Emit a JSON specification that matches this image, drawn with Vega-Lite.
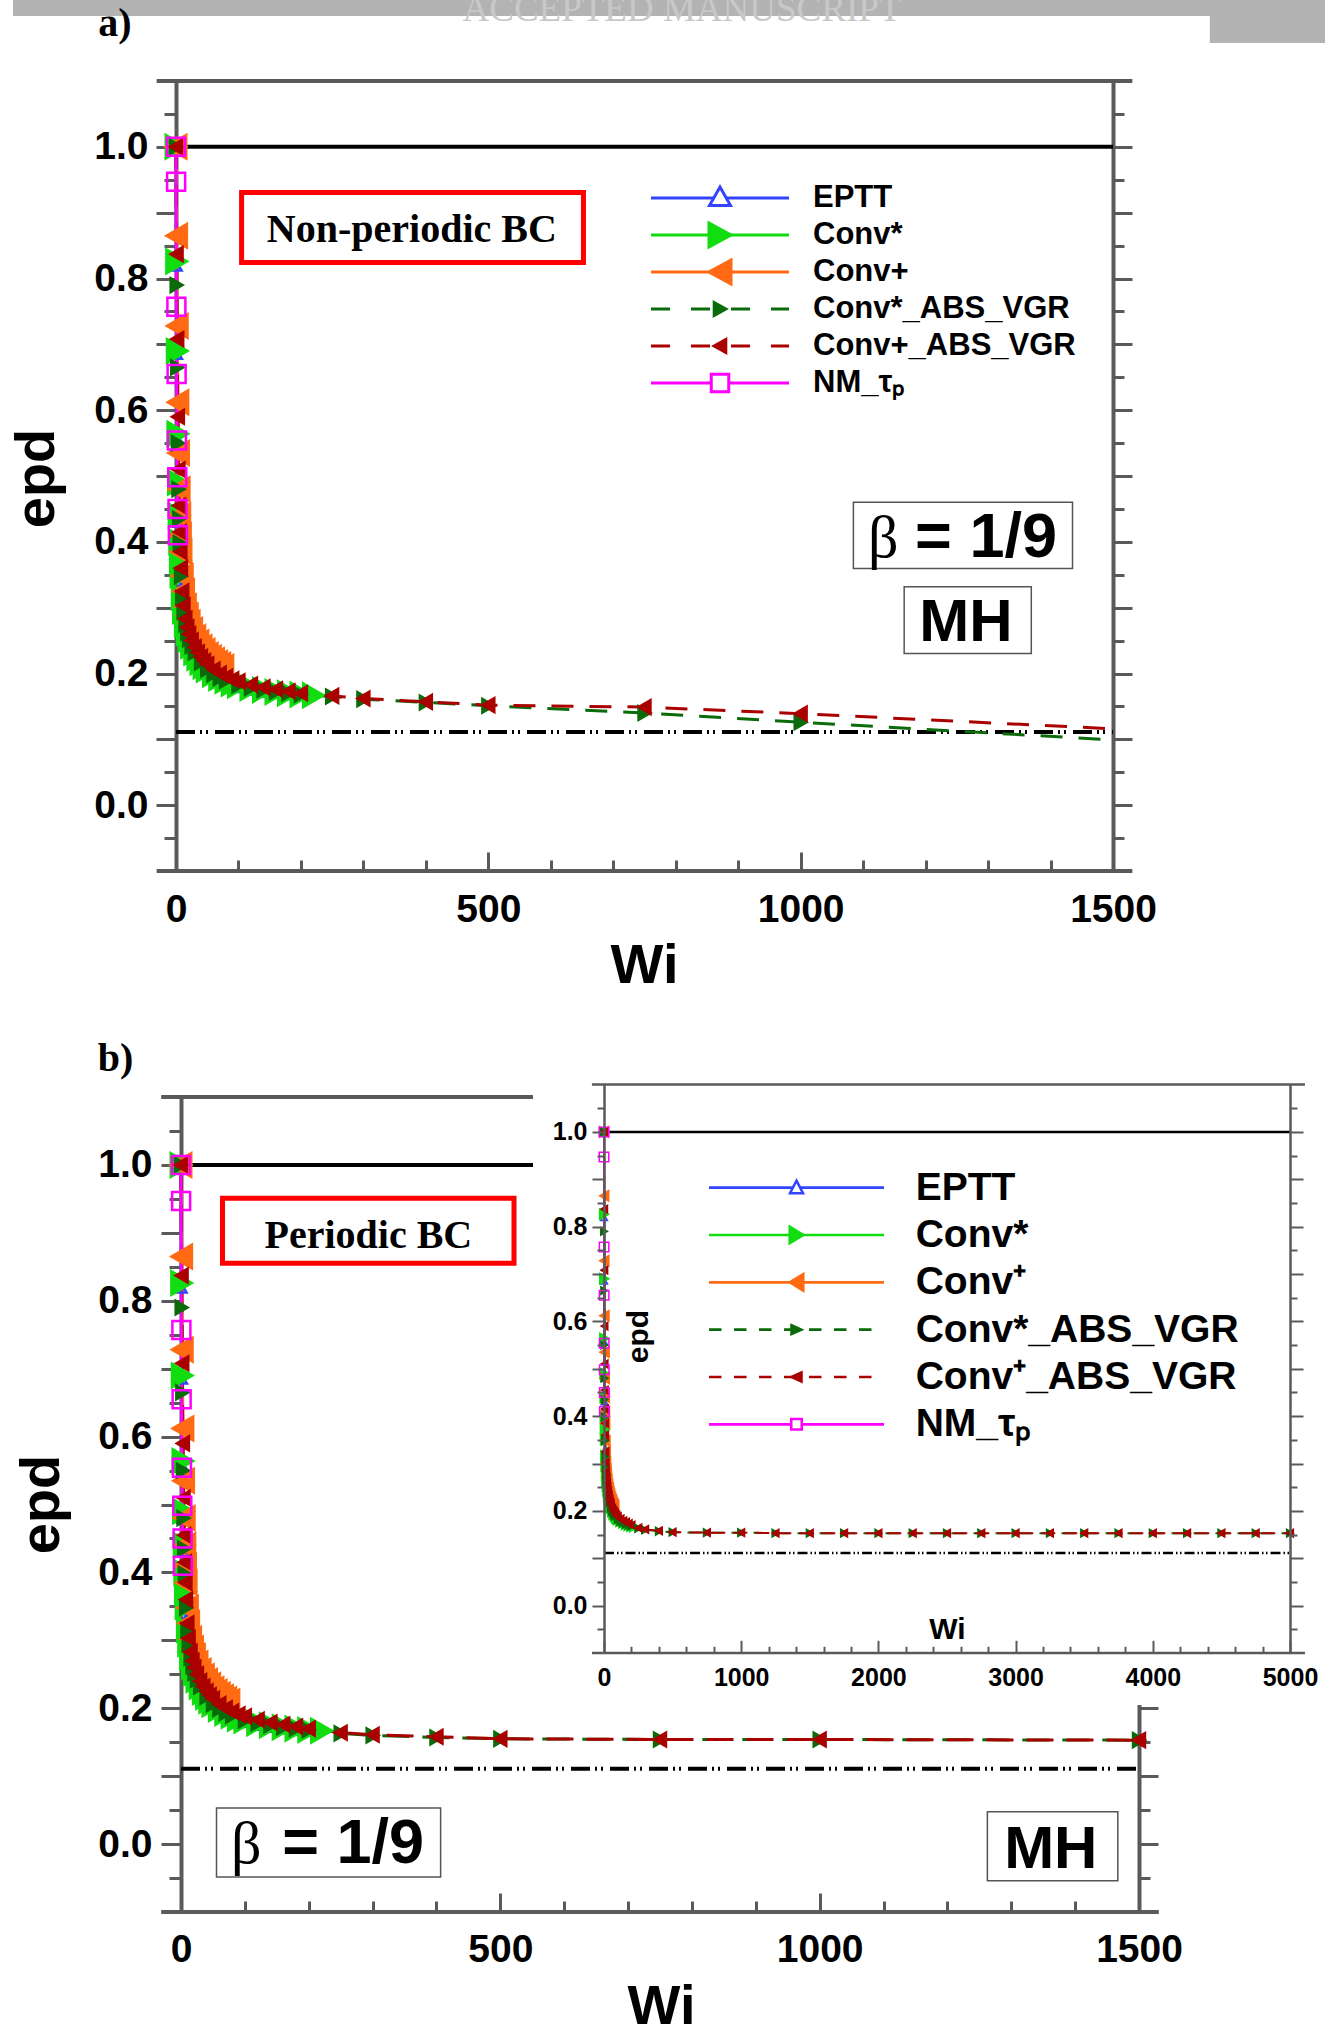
{
"$schema":"https://vega.github.io/schema/vega-lite/v6.json",
"width":1325,"height":2028,"autosize":{"type":"none"},"padding":0,"background":"white",
"config":{"view":{"stroke":null},"axis":{"grid":false,"labelFont":"Liberation Sans","labelFontWeight":"bold","labelColor":"black","titleFont":"Liberation Sans","titleFontWeight":"bold","titleColor":"black","labelOverlap":false,"labelBound":false,"labelFlush":false,"tickColor":"#5a5a5a","domainColor":"#5a5a5a"}},
"datasets":{"d":[
{"s":"EPTT","g":"all","Wi":0,"epd":1},{"s":"EPTT","g":"all","Wi":0.5,"epd":0.819},{"s":"EPTT","g":"all","Wi":1,"epd":0.685},{"s":"EPTT","g":"all","Wi":2,"epd":0.556},{"s":"EPTT","g":"all","Wi":3,"epd":0.48},{"s":"EPTT","g":"all","Wi":4,"epd":0.43},{"s":"EPTT","g":"all","Wi":5,"epd":0.392},{"s":"EPTT","g":"all","Wi":6,"epd":0.364},{"s":"EPTT","g":"all","Wi":8,"epd":0.33},{"s":"EPTT","g":"all","Wi":10,"epd":0.308},{"s":"EPTT","g":"all","Wi":12,"epd":0.29},{"s":"EPTT","g":"all","Wi":15,"epd":0.27},{"s":"EPTT","g":"all","Wi":18,"epd":0.257},{"s":"EPTT","g":"all","Wi":21,"epd":0.247},{"s":"EPTT","g":"all","Wi":25,"epd":0.237},{"s":"EPTT","g":"all","Wi":30,"epd":0.227},{"s":"EPTT","g":"all","Wi":35,"epd":0.219},{"s":"EPTT","g":"all","Wi":40,"epd":0.212},{"s":"EPTT","g":"all","Wi":45,"epd":0.207},{"s":"EPTT","g":"all","Wi":50,"epd":0.202},{"s":"EPTT","g":"all","Wi":60,"epd":0.195},{"s":"EPTT","g":"all","Wi":70,"epd":0.19},{"s":"EPTT","g":"all","Wi":80,"epd":0.186},{"s":"EPTT","g":"all","Wi":90,"epd":0.182},{"s":"EPTT","g":"all","Wi":100,"epd":0.179},{"s":"EPTT","g":"all","Wi":120,"epd":0.175},{"s":"EPTT","g":"all","Wi":140,"epd":0.172},{"s":"EPTT","g":"all","Wi":160,"epd":0.17},{"s":"EPTT","g":"all","Wi":180,"epd":0.168},{"s":"EPTT","g":"all","Wi":200,"epd":0.167},
{"s":"Conv*","g":"all","Wi":0,"epd":1},{"s":"Conv*","g":"all","Wi":1,"epd":0.826},{"s":"Conv*","g":"all","Wi":2,"epd":0.69},{"s":"Conv*","g":"all","Wi":3,"epd":0.564},{"s":"Conv*","g":"all","Wi":4,"epd":0.49},{"s":"Conv*","g":"all","Wi":5,"epd":0.44},{"s":"Conv*","g":"all","Wi":6,"epd":0.4},{"s":"Conv*","g":"all","Wi":7,"epd":0.372},{"s":"Conv*","g":"all","Wi":8,"epd":0.35},{"s":"Conv*","g":"all","Wi":10,"epd":0.316},{"s":"Conv*","g":"all","Wi":12,"epd":0.295},{"s":"Conv*","g":"all","Wi":15,"epd":0.275},{"s":"Conv*","g":"all","Wi":18,"epd":0.262},{"s":"Conv*","g":"all","Wi":21,"epd":0.252},{"s":"Conv*","g":"all","Wi":25,"epd":0.242},{"s":"Conv*","g":"all","Wi":30,"epd":0.232},{"s":"Conv*","g":"all","Wi":35,"epd":0.224},{"s":"Conv*","g":"all","Wi":40,"epd":0.217},{"s":"Conv*","g":"all","Wi":45,"epd":0.211},{"s":"Conv*","g":"all","Wi":50,"epd":0.206},{"s":"Conv*","g":"all","Wi":60,"epd":0.199},{"s":"Conv*","g":"all","Wi":70,"epd":0.193},{"s":"Conv*","g":"all","Wi":80,"epd":0.189},{"s":"Conv*","g":"all","Wi":90,"epd":0.185},{"s":"Conv*","g":"all","Wi":100,"epd":0.182},{"s":"Conv*","g":"all","Wi":120,"epd":0.178},{"s":"Conv*","g":"all","Wi":140,"epd":0.175},{"s":"Conv*","g":"all","Wi":160,"epd":0.172},{"s":"Conv*","g":"all","Wi":180,"epd":0.17},{"s":"Conv*","g":"all","Wi":200,"epd":0.168},{"s":"Conv*","g":"all","Wi":220,"epd":0.167},
{"s":"Conv+","g":"all","Wi":0,"epd":1},{"s":"Conv+","g":"all","Wi":1,"epd":0.865},{"s":"Conv+","g":"all","Wi":2,"epd":0.728},{"s":"Conv+","g":"all","Wi":3,"epd":0.612},{"s":"Conv+","g":"all","Wi":4,"epd":0.535},{"s":"Conv+","g":"all","Wi":5,"epd":0.48},{"s":"Conv+","g":"all","Wi":6,"epd":0.44},{"s":"Conv+","g":"all","Wi":7,"epd":0.41},{"s":"Conv+","g":"all","Wi":8,"epd":0.385},{"s":"Conv+","g":"all","Wi":10,"epd":0.348},{"s":"Conv+","g":"all","Wi":12,"epd":0.325},{"s":"Conv+","g":"all","Wi":15,"epd":0.302},{"s":"Conv+","g":"all","Wi":18,"epd":0.288},{"s":"Conv+","g":"all","Wi":21,"epd":0.277},{"s":"Conv+","g":"all","Wi":25,"epd":0.266},{"s":"Conv+","g":"all","Wi":30,"epd":0.255},{"s":"Conv+","g":"all","Wi":35,"epd":0.247},{"s":"Conv+","g":"all","Wi":40,"epd":0.24},{"s":"Conv+","g":"all","Wi":45,"epd":0.234},{"s":"Conv+","g":"all","Wi":50,"epd":0.228},{"s":"Conv+","g":"all","Wi":55,"epd":0.224},{"s":"Conv+","g":"all","Wi":60,"epd":0.22},{"s":"Conv+","g":"all","Wi":65,"epd":0.216},{"s":"Conv+","g":"all","Wi":70,"epd":0.213},{"s":"Conv+","g":"all","Wi":75,"epd":0.21},
{"s":"Conv*_ABS_VGR","g":"all","Wi":0,"epd":1},{"s":"Conv*_ABS_VGR","g":"all","Wi":1,"epd":0.79},{"s":"Conv*_ABS_VGR","g":"all","Wi":2,"epd":0.665},{"s":"Conv*_ABS_VGR","g":"all","Wi":3,"epd":0.55},{"s":"Conv*_ABS_VGR","g":"all","Wi":4,"epd":0.48},{"s":"Conv*_ABS_VGR","g":"all","Wi":5,"epd":0.435},{"s":"Conv*_ABS_VGR","g":"all","Wi":6,"epd":0.398},{"s":"Conv*_ABS_VGR","g":"all","Wi":8,"epd":0.348},{"s":"Conv*_ABS_VGR","g":"all","Wi":10,"epd":0.315},{"s":"Conv*_ABS_VGR","g":"all","Wi":12,"epd":0.294},{"s":"Conv*_ABS_VGR","g":"all","Wi":15,"epd":0.275},{"s":"Conv*_ABS_VGR","g":"all","Wi":18,"epd":0.262},{"s":"Conv*_ABS_VGR","g":"all","Wi":21,"epd":0.252},{"s":"Conv*_ABS_VGR","g":"all","Wi":25,"epd":0.242},{"s":"Conv*_ABS_VGR","g":"all","Wi":30,"epd":0.232},{"s":"Conv*_ABS_VGR","g":"all","Wi":40,"epd":0.217},{"s":"Conv*_ABS_VGR","g":"all","Wi":50,"epd":0.206},{"s":"Conv*_ABS_VGR","g":"all","Wi":60,"epd":0.199},{"s":"Conv*_ABS_VGR","g":"all","Wi":70,"epd":0.193},{"s":"Conv*_ABS_VGR","g":"all","Wi":80,"epd":0.189},{"s":"Conv*_ABS_VGR","g":"all","Wi":100,"epd":0.182},{"s":"Conv*_ABS_VGR","g":"all","Wi":120,"epd":0.178},{"s":"Conv*_ABS_VGR","g":"all","Wi":140,"epd":0.175},{"s":"Conv*_ABS_VGR","g":"all","Wi":160,"epd":0.172},{"s":"Conv*_ABS_VGR","g":"all","Wi":180,"epd":0.17},{"s":"Conv*_ABS_VGR","g":"all","Wi":200,"epd":0.168},
{"s":"Conv+_ABS_VGR","g":"all","Wi":0,"epd":1},{"s":"Conv+_ABS_VGR","g":"all","Wi":1,"epd":0.837},{"s":"Conv+_ABS_VGR","g":"all","Wi":2,"epd":0.708},{"s":"Conv+_ABS_VGR","g":"all","Wi":3,"epd":0.59},{"s":"Conv+_ABS_VGR","g":"all","Wi":4,"epd":0.51},{"s":"Conv+_ABS_VGR","g":"all","Wi":5,"epd":0.455},{"s":"Conv+_ABS_VGR","g":"all","Wi":6,"epd":0.415},{"s":"Conv+_ABS_VGR","g":"all","Wi":7,"epd":0.385},{"s":"Conv+_ABS_VGR","g":"all","Wi":8,"epd":0.36},{"s":"Conv+_ABS_VGR","g":"all","Wi":10,"epd":0.325},{"s":"Conv+_ABS_VGR","g":"all","Wi":12,"epd":0.303},{"s":"Conv+_ABS_VGR","g":"all","Wi":15,"epd":0.283},{"s":"Conv+_ABS_VGR","g":"all","Wi":18,"epd":0.27},{"s":"Conv+_ABS_VGR","g":"all","Wi":21,"epd":0.26},{"s":"Conv+_ABS_VGR","g":"all","Wi":25,"epd":0.25},{"s":"Conv+_ABS_VGR","g":"all","Wi":30,"epd":0.24},{"s":"Conv+_ABS_VGR","g":"all","Wi":35,"epd":0.232},{"s":"Conv+_ABS_VGR","g":"all","Wi":40,"epd":0.225},{"s":"Conv+_ABS_VGR","g":"all","Wi":45,"epd":0.219},{"s":"Conv+_ABS_VGR","g":"all","Wi":50,"epd":0.214},{"s":"Conv+_ABS_VGR","g":"all","Wi":60,"epd":0.206},{"s":"Conv+_ABS_VGR","g":"all","Wi":70,"epd":0.2},{"s":"Conv+_ABS_VGR","g":"all","Wi":80,"epd":0.195},{"s":"Conv+_ABS_VGR","g":"all","Wi":90,"epd":0.191},{"s":"Conv+_ABS_VGR","g":"all","Wi":100,"epd":0.188},{"s":"Conv+_ABS_VGR","g":"all","Wi":120,"epd":0.183},{"s":"Conv+_ABS_VGR","g":"all","Wi":140,"epd":0.179},{"s":"Conv+_ABS_VGR","g":"all","Wi":160,"epd":0.176},{"s":"Conv+_ABS_VGR","g":"all","Wi":180,"epd":0.173},{"s":"Conv+_ABS_VGR","g":"all","Wi":200,"epd":0.17},
{"s":"NM_τₚ","g":"all","Wi":0,"epd":1},{"s":"NM_τₚ","g":"all","Wi":0.2,"epd":0.947},{"s":"NM_τₚ","g":"all","Wi":0.6,"epd":0.757},{"s":"NM_τₚ","g":"all","Wi":1,"epd":0.655},{"s":"NM_τₚ","g":"all","Wi":1.5,"epd":0.554},{"s":"NM_τₚ","g":"all","Wi":2,"epd":0.498},{"s":"NM_τₚ","g":"all","Wi":2.5,"epd":0.45},{"s":"NM_τₚ","g":"all","Wi":3,"epd":0.41},
{"s":"Conv*_ABS_VGR","g":"a","Wi":250,"epd":0.165},{"s":"Conv*_ABS_VGR","g":"a","Wi":300,"epd":0.161},{"s":"Conv*_ABS_VGR","g":"a","Wi":400,"epd":0.156},{"s":"Conv*_ABS_VGR","g":"a","Wi":500,"epd":0.151},{"s":"Conv*_ABS_VGR","g":"a","Wi":750,"epd":0.14},{"s":"Conv*_ABS_VGR","g":"a","Wi":1000,"epd":0.126},{"s":"Conv*_ABS_VGR","g":"a","Wi":1500,"epd":0.099},
{"s":"Conv+_ABS_VGR","g":"a","Wi":250,"epd":0.166},{"s":"Conv+_ABS_VGR","g":"a","Wi":300,"epd":0.162},{"s":"Conv+_ABS_VGR","g":"a","Wi":400,"epd":0.157},{"s":"Conv+_ABS_VGR","g":"a","Wi":500,"epd":0.152},{"s":"Conv+_ABS_VGR","g":"a","Wi":750,"epd":0.149},{"s":"Conv+_ABS_VGR","g":"a","Wi":1000,"epd":0.139},{"s":"Conv+_ABS_VGR","g":"a","Wi":1500,"epd":0.116},
{"s":"Conv*_ABS_VGR","g":"b","Wi":250,"epd":0.163},{"s":"Conv*_ABS_VGR","g":"b","Wi":300,"epd":0.16},{"s":"Conv*_ABS_VGR","g":"b","Wi":400,"epd":0.157},{"s":"Conv*_ABS_VGR","g":"b","Wi":500,"epd":0.155},{"s":"Conv*_ABS_VGR","g":"b","Wi":750,"epd":0.154},{"s":"Conv*_ABS_VGR","g":"b","Wi":1000,"epd":0.154},{"s":"Conv*_ABS_VGR","g":"b","Wi":1500,"epd":0.153},
{"s":"Conv+_ABS_VGR","g":"b","Wi":250,"epd":0.164},{"s":"Conv+_ABS_VGR","g":"b","Wi":300,"epd":0.161},{"s":"Conv+_ABS_VGR","g":"b","Wi":400,"epd":0.158},{"s":"Conv+_ABS_VGR","g":"b","Wi":500,"epd":0.155},{"s":"Conv+_ABS_VGR","g":"b","Wi":750,"epd":0.154},{"s":"Conv+_ABS_VGR","g":"b","Wi":1000,"epd":0.154},{"s":"Conv+_ABS_VGR","g":"b","Wi":1500,"epd":0.153},
{"s":"Conv*_ABS_VGR","g":"i","Wi":1250,"epd":0.153},{"s":"Conv*_ABS_VGR","g":"i","Wi":1750,"epd":0.153},{"s":"Conv*_ABS_VGR","g":"i","Wi":2000,"epd":0.153},{"s":"Conv*_ABS_VGR","g":"i","Wi":2250,"epd":0.153},{"s":"Conv*_ABS_VGR","g":"i","Wi":2500,"epd":0.153},{"s":"Conv*_ABS_VGR","g":"i","Wi":2750,"epd":0.153},{"s":"Conv*_ABS_VGR","g":"i","Wi":3000,"epd":0.153},{"s":"Conv*_ABS_VGR","g":"i","Wi":3250,"epd":0.153},{"s":"Conv*_ABS_VGR","g":"i","Wi":3500,"epd":0.153},{"s":"Conv*_ABS_VGR","g":"i","Wi":3750,"epd":0.153},{"s":"Conv*_ABS_VGR","g":"i","Wi":4000,"epd":0.153},{"s":"Conv*_ABS_VGR","g":"i","Wi":4250,"epd":0.153},{"s":"Conv*_ABS_VGR","g":"i","Wi":4500,"epd":0.153},{"s":"Conv*_ABS_VGR","g":"i","Wi":4750,"epd":0.153},{"s":"Conv*_ABS_VGR","g":"i","Wi":5000,"epd":0.153},
{"s":"Conv+_ABS_VGR","g":"i","Wi":1250,"epd":0.153},{"s":"Conv+_ABS_VGR","g":"i","Wi":1750,"epd":0.153},{"s":"Conv+_ABS_VGR","g":"i","Wi":2000,"epd":0.153},{"s":"Conv+_ABS_VGR","g":"i","Wi":2250,"epd":0.153},{"s":"Conv+_ABS_VGR","g":"i","Wi":2500,"epd":0.153},{"s":"Conv+_ABS_VGR","g":"i","Wi":2750,"epd":0.153},{"s":"Conv+_ABS_VGR","g":"i","Wi":3000,"epd":0.153},{"s":"Conv+_ABS_VGR","g":"i","Wi":3250,"epd":0.153},{"s":"Conv+_ABS_VGR","g":"i","Wi":3500,"epd":0.153},{"s":"Conv+_ABS_VGR","g":"i","Wi":3750,"epd":0.153},{"s":"Conv+_ABS_VGR","g":"i","Wi":4000,"epd":0.153},{"s":"Conv+_ABS_VGR","g":"i","Wi":4250,"epd":0.153},{"s":"Conv+_ABS_VGR","g":"i","Wi":4500,"epd":0.153},{"s":"Conv+_ABS_VGR","g":"i","Wi":4750,"epd":0.153},{"s":"Conv+_ABS_VGR","g":"i","Wi":5000,"epd":0.153}
],
"leg":[{"s":"EPTT","label":"EPTT","labelB":"EPTT"},{"s":"Conv*","label":"Conv*","labelB":"Conv*"},{"s":"Conv+","label":"Conv+","labelB":"Conv⁺"},{"s":"Conv*_ABS_VGR","label":"Conv*_ABS_VGR","labelB":"Conv*_ABS_VGR"},{"s":"Conv+_ABS_VGR","label":"Conv+_ABS_VGR","labelB":"Conv⁺_ABS_VGR"},{"s":"NM_τₚ","label":"NM_τₚ","labelB":"NM_τₚ"}]
},
"layer":[
{"layer":[
 {"data":{"values":[{}]},"mark":{"type":"rect","color":"#b3b3b3"},"encoding":{"x":{"datum":-261,"type":"quantitative","axis":null},"x2":{"datum":1840},"y":{"datum":1.224,"type":"quantitative","axis":null},"y2":{"datum":1.1987}}},
 {"data":{"values":[{}]},"mark":{"type":"rect","color":"#b3b3b3"},"encoding":{"x":{"datum":1655,"type":"quantitative","axis":null},"x2":{"datum":1840},"y":{"datum":1.224,"type":"quantitative","axis":null},"y2":{"datum":1.1577}}},
 {"data":{"values":[{}]},"mark":{"type":"text","text":"ACCEPTED MANUSCRIPT","font":"Liberation Serif","fontSize":37,"color":"#c8c8c8","align":"center","baseline":"alphabetic"},"encoding":{"x":{"datum":810,"type":"quantitative","axis":null},"y":{"datum":1.1911,"type":"quantitative","axis":null}}},
 {"data":{"values":[{}]},"mark":{"type":"rule","color":"black","strokeWidth":4},"encoding":{"x":{"datum":0,"type":"quantitative","axis":null},"x2":{"datum":1500},"y":{"datum":1,"type":"quantitative","axis":null}}},
 {"data":{"values":[{}]},"mark":{"type":"rule","color":"black","strokeWidth":4,"strokeDash":[19,5,2,4,2,7]},"encoding":{"x":{"datum":0,"type":"quantitative","axis":null},"x2":{"datum":1500},"y":{"datum":0.1111,"type":"quantitative","axis":null}}},
 {"data":{"name":"d"},"transform":[{"filter":"datum.g==='all'||datum.g==='a'"}],"mark":{"type":"line","strokeWidth":3},
  "encoding":{
   "x":{"field":"Wi","type":"quantitative","scale":{"domain":[0,1500],"range":[176,1113],"nice":false,"zero":false},
     "axis":{"orient":"bottom","offset":-1157,"values":[0,100,200,300,400,500,600,700,800,900,1000,1100,1200,1300,1400,1500],"tickSize":{"condition":{"test":"datum.value%500===0","value":-19},"value":-11},"tickWidth":3,"domain":false,"labelExpr":"datum.value%500===0?format(datum.value,'d'):''","labelFontSize":39,"labelPadding":38,"title":"Wi","titleFontSize":56,"titleX":644,"titleY":111,"titleAlign":"center","titleBaseline":"alphabetic","titleAngle":0}},
   "y":{"field":"epd","type":"quantitative","scale":{"domain":[-0.1,1.1],"range":[871,81],"nice":false,"zero":false},
     "axis":{"orient":"left","offset":-176,"values":[-0.05,0,0.05,0.1,0.15,0.2,0.25,0.3,0.35,0.4,0.45,0.5,0.55,0.6,0.65,0.7,0.75,0.8,0.85,0.9,0.95,1,1.05],"tickSize":{"condition":{"test":"abs(round(datum.value*100))%10===0","value":20},"value":12},"tickWidth":3,"domainWidth":4,"labelExpr":"abs(round(datum.value*100))%20===0?format(datum.value,'.1f'):''","labelFontSize":39,"labelPadding":8,"title":"epd","titleFontSize":56,"titleAngle":270,"titleX":-140,"titleY":478,"titleAlign":"center","titleBaseline":"middle"}},
   "stroke":{"field":"s","type":"nominal","scale":{"domain":["EPTT","Conv*","Conv+","Conv*_ABS_VGR","Conv+_ABS_VGR","NM_τₚ"],"range":["#3344ff","#11dd11","#ff6a13","#0b6b0b","#aa0000","#ff00ff"]},"legend":null},
   "strokeDash":{"field":"s","type":"nominal","scale":{"domain":["EPTT","Conv*","Conv+","Conv*_ABS_VGR","Conv+_ABS_VGR","NM_τₚ"],"range":[[1,0],[1,0],[1,0],[22,16],[22,16],[1,0]]},"legend":null}
  }},
 {"data":{"name":"d"},"transform":[{"filter":"(datum.g==='all'||datum.g==='a')&&datum.Wi<1500"}],"mark":{"type":"point","size":100,"strokeWidth":2.5,"opacity":1},
  "encoding":{
   "x":{"field":"Wi","type":"quantitative","axis":null},
   "y":{"field":"epd","type":"quantitative","axis":{"orient":"right","offset":-212,"values":[-0.05,0,0.05,0.1,0.15,0.2,0.25,0.3,0.35,0.4,0.45,0.5,0.55,0.6,0.65,0.7,0.75,0.8,0.85,0.9,0.95,1,1.05],"tickSize":{"condition":{"test":"abs(round(datum.value*100))%10===0","value":19},"value":11},"tickWidth":3,"domainWidth":4,"labels":false,"title":null}},
   "stroke":{"field":"s","type":"nominal","scale":{"domain":["EPTT","Conv*","Conv+","Conv*_ABS_VGR","Conv+_ABS_VGR","NM_τₚ"],"range":["#3344ff","#11dd11","#ff6a13","#0b6b0b","#aa0000","#ff00ff"]},"legend":null},
   "fill":{"field":"s","type":"nominal","scale":{"domain":["EPTT","Conv*","Conv+","Conv*_ABS_VGR","Conv+_ABS_VGR","NM_τₚ"],"range":["transparent","#11dd11","#ff6a13","#0b6b0b","#aa0000","transparent"]},"legend":null},
   "shape":{"field":"s","type":"nominal","scale":{"domain":["EPTT","Conv*","Conv+","Conv*_ABS_VGR","Conv+_ABS_VGR","NM_τₚ"],"range":["M0,-0.91L1.05,0.91L-1.05,0.91Z","M2.05,0L-2.05,-2.37L-2.05,2.37Z","M-2.05,0L2.05,-2.37L2.05,2.37Z","M1.19,0L-1.19,-1.38L-1.19,1.38Z","M-1.19,0L1.19,-1.38L1.19,1.38Z","M-1.8,-1.8H1.8V1.8H-1.8Z"]},"legend":null}
  }},
 {"data":{"values":[{}]},"mark":{"type":"rule","color":"#5a5a5a","strokeWidth":4},"encoding":{"x":{"datum":-31,"type":"quantitative","axis":null},"x2":{"datum":1531},"y":{"datum":1.1,"type":"quantitative","axis":null}}},
 {"data":{"values":[{}]},"mark":{"type":"rule","color":"#5a5a5a","strokeWidth":4},"encoding":{"x":{"datum":-31,"type":"quantitative","axis":null},"x2":{"datum":1531},"y":{"datum":-0.1,"type":"quantitative","axis":null}}},
 {"data":{"values":[{}]},"mark":{"type":"rect","fill":"white","stroke":"#ff0000","strokeWidth":5},"encoding":{"x":{"datum":105,"type":"quantitative","axis":null},"x2":{"datum":652.3},"y":{"datum":0.9306,"type":"quantitative","axis":null},"y2":{"datum":0.8243}}},
 {"data":{"values":[{}]},"mark":{"type":"text","text":"Non-periodic BC","font":"Liberation Serif","fontWeight":"bold","fontSize":40,"color":"black","align":"center","baseline":"alphabetic"},"encoding":{"x":{"datum":377.5,"type":"quantitative","axis":null},"y":{"datum":0.8559,"type":"quantitative","axis":null}}},
 {"data":{"values":[{}]},"mark":{"type":"rect","fill":"white","stroke":"#555555","strokeWidth":1.5},"encoding":{"x":{"datum":1084.4,"type":"quantitative","axis":null},"x2":{"datum":1435.2},"y":{"datum":0.4602,"type":"quantitative","axis":null},"y2":{"datum":0.3596}}},
 {"data":{"values":[{}]},"mark":{"type":"text","text":"β","font":"Liberation Serif","fontSize":60,"color":"black","align":"left","baseline":"alphabetic"},"encoding":{"x":{"datum":1107.8,"type":"quantitative","axis":null},"y":{"datum":0.377,"type":"quantitative","axis":null}}},
 {"data":{"values":[{}]},"mark":{"type":"text","text":"= 1/9","font":"Liberation Sans","fontWeight":"bold","fontSize":63,"color":"black","align":"right","baseline":"alphabetic"},"encoding":{"x":{"datum":1410.3,"type":"quantitative","axis":null},"y":{"datum":0.377,"type":"quantitative","axis":null}}},
 {"data":{"values":[{}]},"mark":{"type":"rect","fill":"white","stroke":"#555555","strokeWidth":1.5},"encoding":{"x":{"datum":1165.7,"type":"quantitative","axis":null},"x2":{"datum":1369.2},"y":{"datum":0.3317,"type":"quantitative","axis":null},"y2":{"datum":0.2305}}},
 {"data":{"values":[{}]},"mark":{"type":"text","text":"MH","font":"Liberation Sans","fontWeight":"bold","fontSize":60,"color":"black","align":"center","baseline":"alphabetic"},"encoding":{"x":{"datum":1264.7,"type":"quantitative","axis":null},"y":{"datum":0.2494,"type":"quantitative","axis":null}}},
 {"data":{"values":[{}]},"mark":{"type":"text","text":"a)","font":"Liberation Serif","fontWeight":"bold","fontSize":40,"color":"black","align":"center","baseline":"alphabetic"},"encoding":{"x":{"datum":-98,"type":"quantitative","axis":null},"y":{"datum":1.168,"type":"quantitative","axis":null}}}
],
"resolve":{"axis":{"x":"independent","y":"independent"}}},

{"layer":[
 {"data":{"values":[{}]},"mark":{"type":"rule","color":"black","strokeWidth":4},"encoding":{"x":{"datum":0,"type":"quantitative","axis":null},"x2":{"datum":1500},"y":{"datum":1,"type":"quantitative","axis":null}}},
 {"data":{"values":[{}]},"mark":{"type":"rule","color":"black","strokeWidth":4,"strokeDash":[19,5,2,4,2,7]},"encoding":{"x":{"datum":0,"type":"quantitative","axis":null},"x2":{"datum":1500},"y":{"datum":0.1111,"type":"quantitative","axis":null}}},
 {"data":{"name":"d"},"transform":[{"filter":"datum.g==='all'||datum.g==='b'"}],"mark":{"type":"line","strokeWidth":3},
  "encoding":{
   "x":{"field":"Wi","type":"quantitative","scale":{"domain":[0,1500],"range":[181,1139],"nice":false,"zero":false},
     "axis":{"orient":"bottom","offset":-116,"values":[0,100,200,300,400,500,600,700,800,900,1000,1100,1200,1300,1400,1500],"tickSize":{"condition":{"test":"datum.value%500===0","value":-19},"value":-11},"tickWidth":3,"domain":false,"labelExpr":"datum.value%500===0?format(datum.value,'d'):''","labelFontSize":39,"labelPadding":37,"title":"Wi","titleFontSize":56,"titleX":661,"titleY":111,"titleAlign":"center","titleBaseline":"alphabetic","titleAngle":0}},
   "y":{"field":"epd","type":"quantitative","scale":{"domain":[-0.1,1.1],"range":[1912,1097],"nice":false,"zero":false},
     "axis":{"orient":"left","offset":-181,"values":[-0.05,0,0.05,0.1,0.15,0.2,0.25,0.3,0.35,0.4,0.45,0.5,0.55,0.6,0.65,0.7,0.75,0.8,0.85,0.9,0.95,1,1.05],"tickSize":{"condition":{"test":"abs(round(datum.value*100))%10===0","value":20},"value":12},"tickWidth":3,"domainWidth":4,"labelExpr":"abs(round(datum.value*100))%20===0?format(datum.value,'.1f'):''","labelFontSize":39,"labelPadding":9,"title":"epd","titleFontSize":56,"titleAngle":270,"titleX":-140,"titleY":1504,"titleAlign":"center","titleBaseline":"middle"}},
   "stroke":{"field":"s","type":"nominal","scale":{"domain":["EPTT","Conv*","Conv+","Conv*_ABS_VGR","Conv+_ABS_VGR","NM_τₚ"],"range":["#3344ff","#11dd11","#ff6a13","#0b6b0b","#aa0000","#ff00ff"]},"legend":null},
   "strokeDash":{"field":"s","type":"nominal","scale":{"domain":["EPTT","Conv*","Conv+","Conv*_ABS_VGR","Conv+_ABS_VGR","NM_τₚ"],"range":[[1,0],[1,0],[1,0],[27,13],[27,13],[1,0]]},"legend":null}
  }},
 {"data":{"name":"d"},"transform":[{"filter":"datum.g==='all'||datum.g==='b'"}],"mark":{"type":"point","size":100,"strokeWidth":2.5,"opacity":1},
  "encoding":{
   "x":{"field":"Wi","type":"quantitative","axis":null},
   "y":{"field":"epd","type":"quantitative","axis":{"orient":"right","offset":-186,"values":[-0.05,0,0.05,0.1,0.15,0.2,0.25,0.3,0.35,0.4,0.45,0.5,0.55,0.6,0.65,0.7,0.75,0.8,0.85,0.9,0.95,1,1.05],"tickSize":{"condition":{"test":"abs(round(datum.value*100))%10===0","value":19},"value":11},"tickWidth":3,"domainWidth":4,"labels":false,"title":null}},
   "stroke":{"field":"s","type":"nominal","scale":{"domain":["EPTT","Conv*","Conv+","Conv*_ABS_VGR","Conv+_ABS_VGR","NM_τₚ"],"range":["#3344ff","#11dd11","#ff6a13","#0b6b0b","#aa0000","#ff00ff"]},"legend":null},
   "fill":{"field":"s","type":"nominal","scale":{"domain":["EPTT","Conv*","Conv+","Conv*_ABS_VGR","Conv+_ABS_VGR","NM_τₚ"],"range":["transparent","#11dd11","#ff6a13","#0b6b0b","#aa0000","transparent"]},"legend":null},
   "shape":{"field":"s","type":"nominal","scale":{"domain":["EPTT","Conv*","Conv+","Conv*_ABS_VGR","Conv+_ABS_VGR","NM_τₚ"],"range":["M0,-0.91L1.05,0.91L-1.05,0.91Z","M2.05,0L-2.05,-2.37L-2.05,2.37Z","M-2.05,0L2.05,-2.37L2.05,2.37Z","M1.19,0L-1.19,-1.38L-1.19,1.38Z","M-1.19,0L1.19,-1.38L1.19,1.38Z","M-1.8,-1.8H1.8V1.8H-1.8Z"]},"legend":null}
  }},
 {"data":{"values":[{}]},"mark":{"type":"rule","color":"#5a5a5a","strokeWidth":4},"encoding":{"x":{"datum":-31,"type":"quantitative","axis":null},"x2":{"datum":1531},"y":{"datum":1.1,"type":"quantitative","axis":null}}},
 {"data":{"values":[{}]},"mark":{"type":"rule","color":"#5a5a5a","strokeWidth":4},"encoding":{"x":{"datum":-31,"type":"quantitative","axis":null},"x2":{"datum":1531},"y":{"datum":-0.1,"type":"quantitative","axis":null}}},
 {"data":{"values":[{}]},"mark":{"type":"rect","fill":"white","stroke":"#ff0000","strokeWidth":5},"encoding":{"x":{"datum":65,"type":"quantitative","axis":null},"x2":{"datum":521.4},"y":{"datum":0.951,"type":"quantitative","axis":null},"y2":{"datum":0.8553}}},
 {"data":{"values":[{}]},"mark":{"type":"text","text":"Periodic BC","font":"Liberation Serif","fontWeight":"bold","fontSize":40,"color":"black","align":"center","baseline":"alphabetic"},"encoding":{"x":{"datum":293.3,"type":"quantitative","axis":null},"y":{"datum":0.8772,"type":"quantitative","axis":null}}},
 {"data":{"values":[{}]},"mark":{"type":"rect","fill":"white","stroke":"#555555","strokeWidth":1.5},"encoding":{"x":{"datum":55.6,"type":"quantitative","axis":null},"x2":{"datum":406.5},"y":{"datum":0.0531,"type":"quantitative","axis":null},"y2":{"datum":-0.0485}}},
 {"data":{"values":[{}]},"mark":{"type":"text","text":"β","font":"Liberation Serif","fontSize":60,"color":"black","align":"left","baseline":"alphabetic"},"encoding":{"x":{"datum":78.3,"type":"quantitative","axis":null},"y":{"datum":-0.0283,"type":"quantitative","axis":null}}},
 {"data":{"values":[{}]},"mark":{"type":"text","text":"= 1/9","font":"Liberation Sans","fontWeight":"bold","fontSize":63,"color":"black","align":"right","baseline":"alphabetic"},"encoding":{"x":{"datum":380.5,"type":"quantitative","axis":null},"y":{"datum":-0.0283,"type":"quantitative","axis":null}}},
 {"data":{"values":[{}]},"mark":{"type":"rect","fill":"white","stroke":"#555555","strokeWidth":1.5},"encoding":{"x":{"datum":1262.6,"type":"quantitative","axis":null},"x2":{"datum":1466.8},"y":{"datum":0.0477,"type":"quantitative","axis":null},"y2":{"datum":-0.0539}}},
 {"data":{"values":[{}]},"mark":{"type":"text","text":"MH","font":"Liberation Sans","fontWeight":"bold","fontSize":60,"color":"black","align":"center","baseline":"alphabetic"},"encoding":{"x":{"datum":1361.9,"type":"quantitative","axis":null},"y":{"datum":-0.0357,"type":"quantitative","axis":null}}},
 {"data":{"values":[{}]},"mark":{"type":"text","text":"b)","font":"Liberation Serif","fontWeight":"bold","fontSize":40,"color":"black","align":"center","baseline":"alphabetic"},"encoding":{"x":{"datum":-102.6,"type":"quantitative","axis":null},"y":{"datum":1.1387,"type":"quantitative","axis":null}}}
],
"resolve":{"axis":{"x":"independent","y":"independent"}}},

{"layer":[
 {"data":{"values":[{}]},"mark":{"type":"rect","fill":"white"},"encoding":{"x":{"datum":-517.5,"type":"quantitative","axis":null},"x2":{"datum":5255},"y":{"datum":1.12,"type":"quantitative","axis":null},"y2":{"datum":-0.21}}},
 {"data":{"values":[{}]},"mark":{"type":"rule","color":"#5a5a5a","strokeWidth":2.5},"encoding":{"x":{"datum":-88,"type":"quantitative","axis":null},"x2":{"datum":5109},"y":{"datum":1.1,"type":"quantitative","axis":null}}},
 {"data":{"values":[{}]},"mark":{"type":"rule","color":"#5a5a5a","strokeWidth":2.5},"encoding":{"x":{"datum":-88,"type":"quantitative","axis":null},"x2":{"datum":5109},"y":{"datum":-0.1,"type":"quantitative","axis":null}}},
 {"data":{"values":[{}]},"mark":{"type":"rule","color":"black","strokeWidth":2.5},"encoding":{"x":{"datum":0,"type":"quantitative","axis":null},"x2":{"datum":5000},"y":{"datum":1,"type":"quantitative","axis":null}}},
 {"data":{"values":[{}]},"mark":{"type":"rule","color":"black","strokeWidth":2.5,"strokeDash":[10,3,1.5,2.5,1.5,3]},"encoding":{"x":{"datum":0,"type":"quantitative","axis":null},"x2":{"datum":5000},"y":{"datum":0.1111,"type":"quantitative","axis":null}}},
 {"data":{"name":"d"},"transform":[{"filter":"datum.g!=='a'"}],"mark":{"type":"line","strokeWidth":2},
  "encoding":{
   "x":{"field":"Wi","type":"quantitative","scale":{"domain":[0,5000],"range":[604,1290],"nice":false,"zero":false},
     "axis":{"orient":"bottom","offset":-375,"zindex":1,"values":[0,200,400,600,800,1000,1200,1400,1600,1800,2000,2200,2400,2600,2800,3000,3200,3400,3600,3800,4000,4200,4400,4600,4800,5000],"tickSize":{"condition":{"test":"datum.value%1000===0","value":-12.7},"value":-6.7},"tickWidth":2,"domain":false,"labelExpr":"datum.value%1000===0?format(datum.value,'d'):''","labelFontSize":25,"labelPadding":25,"title":"Wi","titleFontSize":30,"titleX":947,"titleY":-15,"titleAlign":"center","titleBaseline":"alphabetic","titleAngle":0}},
   "y":{"field":"epd","type":"quantitative","scale":{"domain":[-0.1,1.1],"range":[1653,1084.5],"nice":false,"zero":false},
     "axis":{"orient":"left","offset":-604,"zindex":1,"values":[-0.05,0,0.05,0.1,0.15,0.2,0.25,0.3,0.35,0.4,0.45,0.5,0.55,0.6,0.65,0.7,0.75,0.8,0.85,0.9,0.95,1,1.05],"tickSize":{"condition":{"test":"abs(round(datum.value*100))%10===0","value":12},"value":7},"tickWidth":2,"domainWidth":2.5,"labelExpr":"abs(round(datum.value*100))%20===0?format(datum.value,'.1f'):''","labelFontSize":25,"labelPadding":5,"title":"epd","titleFontSize":30,"titleAngle":270,"titleX":34,"titleY":1336,"titleAlign":"center","titleBaseline":"middle"}},
   "stroke":{"field":"s","type":"nominal","scale":{"domain":["EPTT","Conv*","Conv+","Conv*_ABS_VGR","Conv+_ABS_VGR","NM_τₚ"],"range":["#3344ff","#11dd11","#ff6a13","#0b6b0b","#aa0000","#ff00ff"]},"legend":null},
   "strokeDash":{"field":"s","type":"nominal","scale":{"domain":["EPTT","Conv*","Conv+","Conv*_ABS_VGR","Conv+_ABS_VGR","NM_τₚ"],"range":[[1,0],[1,0],[1,0],[14,8],[14,8],[1,0]]},"legend":null}
  }},
 {"data":{"name":"d"},"transform":[{"filter":"datum.g!=='a'"}],"mark":{"type":"point","size":100,"strokeWidth":1.5,"opacity":1},
  "encoding":{
   "x":{"field":"Wi","type":"quantitative","axis":null},
   "y":{"field":"epd","type":"quantitative","axis":{"orient":"right","offset":-35,"zindex":1,"values":[-0.05,0,0.05,0.1,0.15,0.2,0.25,0.3,0.35,0.4,0.45,0.5,0.55,0.6,0.65,0.7,0.75,0.8,0.85,0.9,0.95,1,1.05],"tickSize":{"condition":{"test":"abs(round(datum.value*100))%10===0","value":13},"value":7},"tickWidth":2,"domainWidth":2.5,"labels":false,"title":null}},
   "stroke":{"field":"s","type":"nominal","scale":{"domain":["EPTT","Conv*","Conv+","Conv*_ABS_VGR","Conv+_ABS_VGR","NM_τₚ"],"range":["#3344ff","#11dd11","#ff6a13","#0b6b0b","#aa0000","#ff00ff"]},"legend":null},
   "fill":{"field":"s","type":"nominal","scale":{"domain":["EPTT","Conv*","Conv+","Conv*_ABS_VGR","Conv+_ABS_VGR","NM_τₚ"],"range":["transparent","#11dd11","#ff6a13","#0b6b0b","#aa0000","transparent"]},"legend":null},
   "shape":{"field":"s","type":"nominal","scale":{"domain":["EPTT","Conv*","Conv+","Conv*_ABS_VGR","Conv+_ABS_VGR","NM_τₚ"],"range":["M0,-0.58L0.67,0.58L-0.67,0.58Z","M0.91,0L-0.91,-1.05L-0.91,1.05Z","M-0.91,0L0.91,-1.05L0.91,1.05Z","M0.67,0L-0.67,-0.77L-0.67,0.77Z","M-0.67,0L0.67,-0.77L0.67,0.77Z","M-0.95,-0.95H0.95V0.95H-0.95Z"]},"legend":null}
  }}
],
"resolve":{"axis":{"x":"independent","y":"independent"}}},

{"data":{"name":"leg"},
 "layer":[
  {"mark":{"type":"rule","strokeWidth":3},
   "encoding":{
    "x":{"datum":0,"type":"quantitative","scale":{"domain":[0,1],"range":[651,789],"nice":false,"zero":false},"axis":null},
    "x2":{"datum":1},
    "y":{"field":"s","type":"nominal","scale":{"type":"point","domain":["EPTT","Conv*","Conv+","Conv*_ABS_VGR","Conv+_ABS_VGR","NM_τₚ"],"range":[198,383],"padding":0},"axis":null},
    "stroke":{"field":"s","type":"nominal","scale":{"domain":["EPTT","Conv*","Conv+","Conv*_ABS_VGR","Conv+_ABS_VGR","NM_τₚ"],"range":["#3344ff","#11dd11","#ff6a13","#0b6b0b","#aa0000","#ff00ff"]},"legend":null},
    "strokeDash":{"field":"s","type":"nominal","scale":{"domain":["EPTT","Conv*","Conv+","Conv*_ABS_VGR","Conv+_ABS_VGR","NM_τₚ"],"range":[[1,0],[1,0],[1,0],[19,21],[19,21],[1,0]]},"legend":null}
   }},
  {"mark":{"type":"point","size":100,"strokeWidth":3,"opacity":1},
   "encoding":{
    "x":{"datum":0.5,"type":"quantitative","axis":null},
    "y":{"field":"s","type":"nominal","axis":null},
    "stroke":{"field":"s","type":"nominal","legend":null},
    "fill":{"field":"s","type":"nominal","scale":{"domain":["EPTT","Conv*","Conv+","Conv*_ABS_VGR","Conv+_ABS_VGR","NM_τₚ"],"range":["white","#11dd11","#ff6a13","#0b6b0b","#aa0000","white"]},"legend":null},
    "shape":{"field":"s","type":"nominal","scale":{"domain":["EPTT","Conv*","Conv+","Conv*_ABS_VGR","Conv+_ABS_VGR","NM_τₚ"],"range":["M0,-2.2L2.1,1.5L-2.1,1.5Z","M-2.2,-2.4L2.2,0L-2.2,2.4Z","M2.2,-2.4L-2.2,0L2.2,2.4Z","M-1.16,-1.3L1.16,0L-1.16,1.3Z","M1.16,-1.3L-1.16,0L1.16,1.3Z","M-1.75,-1.75H1.75V1.75H-1.75Z"]},"legend":null}
   }},
  {"mark":{"type":"text","font":"Liberation Sans","fontWeight":"bold","fontSize":31,"color":"black","align":"left","baseline":"middle"},
   "encoding":{
    "x":{"datum":1.174,"type":"quantitative","axis":null},
    "y":{"field":"s","type":"nominal","axis":null},
    "text":{"field":"label"}
   }}
 ]},

{"data":{"name":"leg"},
 "layer":[
  {"mark":{"type":"rule","strokeWidth":2.7},
   "encoding":{
    "x":{"datum":0,"type":"quantitative","scale":{"domain":[0,1],"range":[709,884],"nice":false,"zero":false},"axis":null},
    "x2":{"datum":1},
    "y":{"field":"s","type":"nominal","scale":{"type":"point","domain":["EPTT","Conv*","Conv+","Conv*_ABS_VGR","Conv+_ABS_VGR","NM_τₚ"],"range":[1187.7,1424.3],"padding":0},"axis":null},
    "stroke":{"field":"s","type":"nominal","scale":{"domain":["EPTT","Conv*","Conv+","Conv*_ABS_VGR","Conv+_ABS_VGR","NM_τₚ"],"range":["#3344ff","#11dd11","#ff6a13","#0b6b0b","#aa0000","#ff00ff"]},"legend":null},
    "strokeDash":{"field":"s","type":"nominal","scale":{"domain":["EPTT","Conv*","Conv+","Conv*_ABS_VGR","Conv+_ABS_VGR","NM_τₚ"],"range":[[1,0],[1,0],[1,0],[12.5,12.5],[12.5,12.5],[1,0]]},"legend":null}
   }},
  {"mark":{"type":"point","size":100,"strokeWidth":2.5,"opacity":1},
   "encoding":{
    "x":{"datum":0.5,"type":"quantitative","axis":null},
    "y":{"field":"s","type":"nominal","axis":null},
    "stroke":{"field":"s","type":"nominal","legend":null},
    "fill":{"field":"s","type":"nominal","scale":{"domain":["EPTT","Conv*","Conv+","Conv*_ABS_VGR","Conv+_ABS_VGR","NM_τₚ"],"range":["white","#11dd11","#ff6a13","#0b6b0b","#aa0000","white"]},"legend":null},
    "shape":{"field":"s","type":"nominal","scale":{"domain":["EPTT","Conv*","Conv+","Conv*_ABS_VGR","Conv+_ABS_VGR","NM_τₚ"],"range":["M0,-1.4L1.3,1.1L-1.3,1.1Z","M-1.36,-1.67L1.36,0L-1.36,1.67Z","M1.36,-1.67L-1.36,0L1.36,1.67Z","M-1,-0.9L1,0L-1,0.9Z","M1,-0.9L-1,0L1,0.9Z","M-1.05,-1.05H1.05V1.05H-1.05Z"]},"legend":null}
   }},
  {"mark":{"type":"text","font":"Liberation Sans","fontWeight":"bold","fontSize":39,"color":"black","align":"left","baseline":"middle"},
   "encoding":{
    "x":{"datum":1.181,"type":"quantitative","axis":null},
    "y":{"field":"s","type":"nominal","axis":null},
    "text":{"field":"labelB"}
   }}
 ]}
],
"resolve":{"scale":{"x":"independent","y":"independent","stroke":"independent","fill":"independent","shape":"independent","strokeDash":"independent"}}
}
